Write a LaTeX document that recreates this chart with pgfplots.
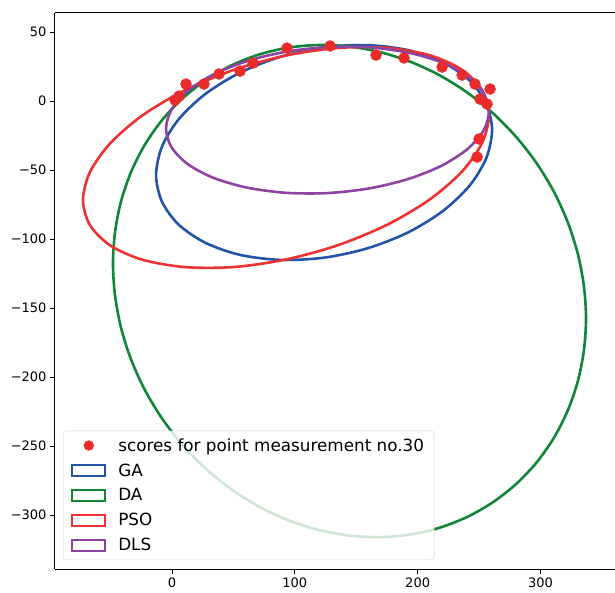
\documentclass[border=0pt]{standalone}
\usepackage{pgfplots}
\pgfplotsset{compat=1.18}
\usepackage{fontspec}
\setmainfont{DejaVu Sans}
\definecolor{cGA}{RGB}{36,84,168}
\definecolor{cDA}{RGB}{17,133,56}
\definecolor{cPSO}{RGB}{237,50,50}
\definecolor{cDLS}{RGB}{142,68,160}
\definecolor{cDot}{RGB}{235,42,42}
\begin{document}
\begin{tikzpicture}
\begin{axis}[name=ax, width=560pt, height=556pt, scale only axis,
 xmin=-95.3, xmax=360.7, ymin=-339.1, ymax=63.8,
 axis x line=box, axis y line=left, axis line style={-, line width=1pt, black},
 tick align=outside, tick pos=left, major tick length=5pt,
 tick style={line width=0.9pt, black},
 xtick={0,100,200,300}, ytick={-300,-250,-200,-150,-100,-50,0,50},
 xticklabels={0,100,200,300},
 yticklabels={−300,−250,−200,−150,−100,−50,0,50},
 tick label style={font=\fontsize{13}{15}\selectfont},
 legend cell align=left,
 legend style={at={(axis description cs:0.0143,0.0162)}, anchor=south west,
   draw=black!20, rounded corners=3pt, fill=white, fill opacity=0.8, text opacity=1, draw opacity=0.8,
   font=\fontsize{16.8}{19}\selectfont, inner xsep=8pt, inner ysep=5.5pt, row sep=7pt},
]
\addplot[only marks, mark=*, mark size=5.5pt, color=cDot, mark options={fill=cDot, draw=none},
  legend image code/.code={\path[draw=none,fill=none] (0pt,-6pt) rectangle (44pt,6pt); \fill[cDot, fill opacity=1, sharp corners] (16.5pt,0pt) circle (5pt);}]
coordinates {(2.4,0.7) (5.7,3.6) (11.4,12.3) (26,12.3) (38.3,19.6) (55.4,21.7) (66,27.5)
(93.6,38.4) (128.7,39.9) (166.1,33.3) (188.9,31.2) (219.9,24.6) (236.2,18.8) (246.7,12.3)
(259,8.7) (250.8,1.4) (256.5,-2.2) (250,-27.5) (248.4,-40.6)};
\addlegendentry{scores for point measurement no.30}

\pgfplotsset{ell/.style={smooth cycle, line width=2.6pt,
  legend image code/.code={\path[draw=none,fill=none] (0pt,-6pt) rectangle (44pt,6pt); \draw[##1, sharp corners, line width=2.2pt, draw opacity=1, fill=white, fill opacity=1] (0pt,-5.5pt) rectangle (33pt,5.5pt);}}}

\addplot[ell, color=cGA] coordinates {
(260.6,-21.0) (255.9,-41.3) (242.3,-61.3) (220.5,-79.7) (192.2,-95.2) (159.2,-106.7)
(123.8,-113.5) (88.4,-115.1) (55.4,-111.5) (27.1,-102.7) (5.3,-89.5) (-8.3,-72.7)
(-13.0,-53.6) (-8.3,-33.3) (5.3,-13.3) (27.1,5.1) (55.4,20.6) (88.4,32.1)
(123.8,38.9) (159.2,40.5) (192.2,36.9) (220.5,28.1) (242.3,14.9) (255.9,-1.9)};
\addlegendentry{GA}

\addplot[ell, color=cDA] coordinates {
(337.1,-157.6) (335.4,-180.6) (330.5,-202.8) (322.4,-223.9) (311.3,-243.5) (297.3,-261.4)
(280.7,-277.1) (261.75,-290.45) (240.8,-301.2) (218.2,-309.1) (194.3,-314.1) (169.6,-316.0)
(144.5,-314.9) (119.4,-310.8) (94.7,-303.8) (70.8,-293.9) (48.2,-281.3) (27.25,-266.2)
(8.3,-248.9) (-8.3,-229.8) (-22.3,-209.1) (-33.4,-187.2) (-41.5,-164.4) (-46.4,-141.1)
(-48.1,-117.8) (-46.4,-94.8) (-41.5,-72.6) (-33.4,-51.5) (-22.3,-31.9) (-8.3,-14.0)
(8.3,1.7) (27.25,15.05) (48.2,25.8) (70.8,33.7) (94.7,38.7) (119.4,40.6)
(144.5,39.5) (169.6,35.4) (194.3,28.4) (218.2,18.5) (240.8,5.9) (261.75,-9.2)
(280.7,-26.5) (297.3,-45.6) (311.3,-66.3) (322.4,-88.2) (330.5,-111.0) (335.4,-134.3)};
\addlegendentry{DA}

\addplot[ell, color=cPSO] coordinates {
(258.1,-10.1) (252.5,-30.3) (236.0,-51.2) (209.7,-71.4) (175.5,-89.5) (135.6,-104.3)
(92.8,-114.8) (50.0,-120.3) (10.2,-120.3) (-24.1,-115.0) (-50.4,-104.6) (-66.9,-89.8)
(-72.5,-71.7) (-66.9,-51.6) (-50.4,-30.7) (-24.1,-10.4) (10.2,7.7) (50.0,22.5)
(92.8,33.0) (135.6,38.5) (175.5,38.5) (209.7,33.2) (236.0,22.75) (252.5,7.95)};
\addlegendentry{PSO}

\addplot[ell, color=cDLS] coordinates {
(258.1,-7.6) (253.6,-21.5) (240.5,-34.85) (219.6,-46.8) (192.35,-56.5) (160.6,-63.3)
(126.6,-66.7) (92.6,-66.5) (60.85,-62.7) (33.6,-55.6) (12.7,-45.65) (-0.4,-33.5)
(-4.9,-20.0) (-0.4,-6.1) (12.7,7.25) (33.6,19.2) (60.85,28.9) (92.6,35.7)
(126.6,39.1) (160.6,38.9) (192.35,35.1) (219.6,28.0) (240.5,18.05) (253.6,5.9)};
\addlegendentry{DLS}
\end{axis}
\pgfresetboundingbox
\path ([xshift=-55pt,yshift=-23pt]ax.south west) rectangle ([yshift=13pt]ax.north east);
\end{tikzpicture}
\end{document}
